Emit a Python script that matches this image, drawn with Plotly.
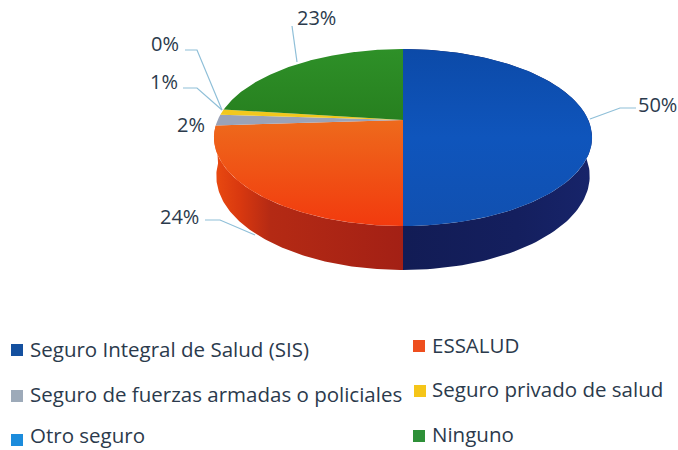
import math
import numpy as np
import plotly.graph_objects as go

categories = ["Seguro Integral de Salud (SIS)", "ESSALUD", "Seguro de fuerzas armadas o policiales",
              "Seguro privado de salud", "Otro seguro", "Ninguno"]
values = [50, 24, 2, 1, 0, 23]
labels = ["50%", "24%", "2%", "1%", "0%", "23%"]

top_colors = ["#0F52B4", "#EE5418", "#9AA3B8", "#F2C81E", "#1E88D8", "#2E8B28"]

# geometry of the perspective disc, in page pixels
CX, CY_TOP, CY_BOT = 403.0, 120.0, 157.4
A_TOP, B_TOP = 185.3, 85.0
A_BOT, B_BOT = 183.0, 90.3
P = 0.198

def rim(theta, a, b, cy):
    w = 1 + P * np.cos(theta)
    return CX + a * np.sin(theta) / w, cy - b * np.cos(theta) / w

def add_gradient(trace_kw, kind, stops):
    trace_kw["fillgradient"] = dict(type=kind, colorscale=stops)
    return trace_kw

fig = go.Figure()
total = sum(values)
edges = np.cumsum([0] + values) / total * 2 * math.pi

wall_grad = {
    0: ("horizontal", [[0, "#121C55"], [0.6, "#141F5E"], [1, "#17246A"]]),
    1: ("horizontal", [[0, "#EA4A10"], [0.14, "#D8380F"], [0.3, "#B42A14"], [1, "#A32015"]]),
}
top_grad = {
    0: ("vertical", [[0, "#1150B0"], [0.5, "#0F55BC"], [1, "#0C4AA8"]]),
    1: ("vertical", [[0, "#F23A0E"], [1, "#EE6A1C"]]),
    5: ("vertical", [[0, "#27801F"], [1, "#2E9028"]]),
}

# side wall of the visible (front) slices only
for i in wall_grad:
    th = np.linspace(edges[i], edges[i + 1], 120)
    xt, yt = rim(th, A_TOP, B_TOP, CY_TOP)
    xb, yb = rim(th, A_BOT, B_BOT, CY_BOT)
    kw = dict(x=np.r_[xt, xb[::-1]], y=np.r_[yt, yb[::-1]], mode="lines", fill="toself",
              line=dict(width=0), hoverinfo="skip", showlegend=False)
    add_gradient(kw, *wall_grad[i])
    fig.add_trace(go.Scatter(**kw))

# top face
for i, v in enumerate(values):
    if v == 0:
        continue
    th = np.linspace(edges[i], edges[i + 1], 160)
    x, y = rim(th, A_TOP, B_TOP, CY_TOP)
    kw = dict(x=np.r_[CX, x, CX], y=np.r_[CY_TOP, y, CY_TOP], mode="lines", fill="toself",
              line=dict(width=0), hoverinfo="skip", showlegend=False)
    if i in top_grad:
        add_gradient(kw, *top_grad[i])
    else:
        kw["fillcolor"] = top_colors[i]
    fig.add_trace(go.Scatter(**kw))

# leader lines
LEADERS = [
    [(636, 108), (620, 108), (590, 119)],
    [(205, 220), (220, 220), (255, 235)],
    [(183, 88), (197, 88), (222, 110)],
    [(185, 50), (197, 50), (222, 110)],
    [(292, 26), (297, 62)],
]
for pts in LEADERS:
    fig.add_trace(go.Scatter(x=[p[0] for p in pts], y=[p[1] for p in pts], mode="lines",
                             line=dict(color="#8FBFD8", width=1.2), hoverinfo="skip", showlegend=False))

TXT = "#2B3A4C"
FONT = "Open Sans"
LABEL_POS = {0: (657, 104), 1: (179, 216), 2: (191, 124), 3: (164, 81), 4: (165, 43), 5: (316, 17)}
ann = []
for i, (px, py) in LABEL_POS.items():
    ann.append(dict(x=px, y=py, text=labels[i], showarrow=False, xanchor="center", yanchor="middle",
                    font=dict(family=FONT, size=20, color=TXT)))

LEGEND_POS = [(11, 350, 28, 349), (413, 346, 430, 345), (11, 396, 28, 394),
              (414, 391, 430, 389), (11, 440, 28, 435), (413, 436, 430, 434)]
SW_COL = ["#14509F", "#EE4E1E", "#9DAAB9", "#F5C518", "#1C8CDC", "#2E9038"]
shapes = []
for i, (sx, sy, tx, ty) in enumerate(LEGEND_POS):
    shapes.append(dict(type="rect", x0=sx, x1=sx + 12, y0=sy - 6, y1=sy + 6, xref="x", yref="y",
                       fillcolor=SW_COL[i], line=dict(width=0), layer="above"))
    ann.append(dict(x=tx, y=ty, text=categories[i], showarrow=False, xanchor="left", yanchor="middle",
                    font=dict(family=FONT, size=20.5, color=TXT)))

fig.update_layout(
    width=678, height=450, margin=dict(l=0, r=0, t=0, b=0), paper_bgcolor="white", plot_bgcolor="white",
    xaxis=dict(range=[0, 678], visible=False, fixedrange=True),
    yaxis=dict(range=[450, 0], visible=False, fixedrange=True),
    annotations=ann, shapes=shapes, showlegend=False,
)
fig.write_html("out.html", config={"displayModeBar": False},
               post_script="document.body.style.margin='0';document.body.style.overflow='hidden';")
